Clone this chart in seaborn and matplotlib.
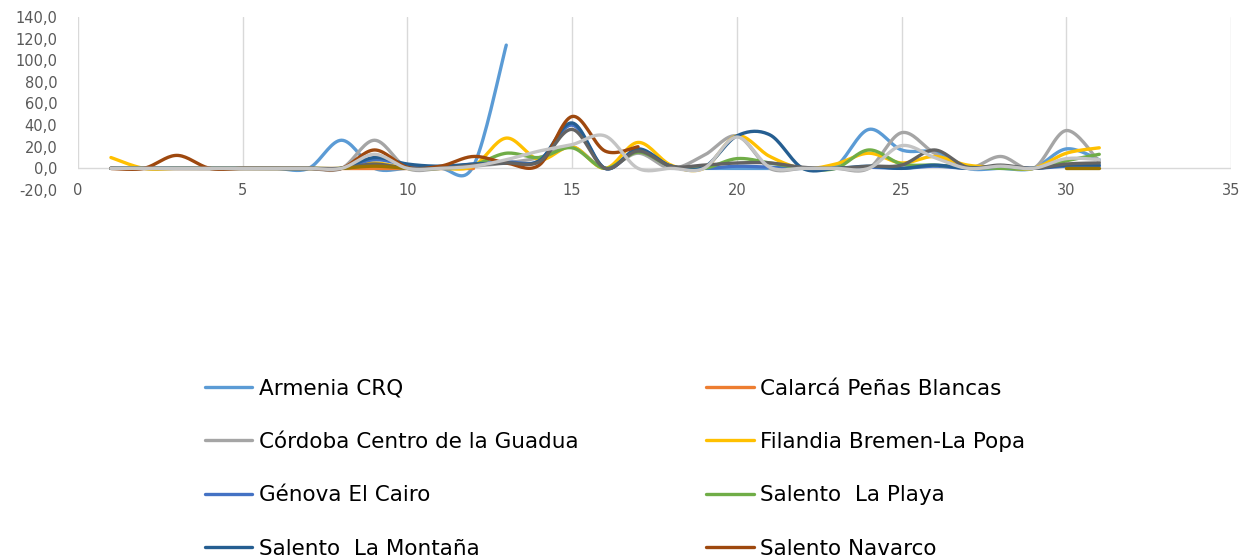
import numpy as np
import pandas as pd
import matplotlib
matplotlib.use("Agg")
import matplotlib.pyplot as plt
import seaborn as sns
from matplotlib.lines import Line2D

nan = np.nan

# dias 1..31
dias = list(range(1, 32))

armenia = [0, 0, 0, 0, 0, 0, 0, 26, 0, 0, 0, 2, 114, nan, nan, nan, nan,
           0, 0, 0, 0, 0, 2, 36, 17, 15, 0, 0, 0, 18, 8]
calarca = [0, 0, 0, 0, 0, 0, 0, 0, 0, 0, 0, 0, nan, nan, nan, nan, nan,
           nan, nan, nan, nan, nan, nan, nan, nan, nan, nan, nan, nan, nan, nan]
cordoba = [0, 0, 0, 0, 0, 0, 0, 0, 26, 0, 0, 2, 5, 10, 20, 0, 14,
           0, 12, 30, 0, 0, 0, 0, 33, 14, 0, 11, 0, 35, 6]
filandia = [10, 0, 0, 0, 0, 0, 0, 0, 5, 0, 0, 2, 28, 8, 20, 0, 24,
            3, 0, 30, 11, 0, 4, 14, 5, 11, 3, 1, 0, 14, 19]
genova = [0, 0, 0, 0, 0, 0, 0, 0, 8, 3, 1, 4, 6, 7, 40, 0, 17,
          2, 0, 2, 1, 0, 0, 1, 0, 2, 0, 1, 0, 2, 2]
playa = [0, 0, 0, 0, 0, 0, 0, 0, 3, 0, 0, 3, 14, 10, 19, 0, 15,
         2, 0, 9, 5, 0, 0, 17, 4, 3, 1, 0, 0, 7, 13]
montana = [0, 0, 0, 0, 0, 0, 0, 0, 10, 4, 2, 4, 5, 7, 42, 0, 18,
           2, 1, 30, 31, 0, 0, 2, 0, 3, 0, 2, 0, 3, 3]
navarco = [0, 0, 12, 0, 0, 0, 0, 0, 17, 1, 2, 11, 5, 3, 48, 16, 20,
           nan, nan, nan, nan, nan, nan, nan, nan, nan, nan, nan, nan, nan, nan]
serie9 = [0, 0, 0, 0, 0, 0, 0, 0, 4, 0, 0, 3, 5, 6, 36, 0, 16,
          2, 3, 5, 5, 1, 0, 2, 3, 17, 1, 3, 0, 4, 5]
serie10 = [nan, nan, nan, nan, nan, nan, nan, 0, 2, 0, nan, nan, nan, nan, nan, nan, nan,
           nan, nan, nan, nan, nan, nan, nan, nan, nan, nan, nan, nan, 0, 0]
serie11 = [0, 0, 0, 0, 0, 0, 0, 0, 13, 0, 0, 2, 8, 16, 22, 30, 0,
           0, 0, 29, 1, 0, 0, 0, 21, 10, 0, 2, 0, 9, 8]

nombres = ["Armenia CRQ", "Calarcá Peñas Blancas", "Córdoba Centro de la Guadua",
           "Filandia Bremen-La Popa", "Génova El Cairo", "Salento  La Playa",
           "Salento  La Montaña", "Salento Navarco", "Serie 9", "Serie 10", "Serie 11"]
series = [armenia, calarca, cordoba, filandia, genova, playa, montana, navarco,
          serie9, serie10, serie11]
colores = ["#5B9BD5", "#ED7D31", "#A5A5A5", "#FFC000", "#4472C4", "#70AD47",
           "#255E91", "#9E480E", "#636363", "#997300", "#C4C4C4"]


def suavizar(xs, ys, n=20):
    # curvas tipo Excel (Catmull-Rom / Bezier) por tramos sin huecos
    xs = np.asarray(xs, float)
    ys = np.asarray(ys, float)
    tramos, actual = [], []
    for x, y in zip(xs, ys):
        if np.isnan(y):
            if actual:
                tramos.append(actual)
            actual = []
        else:
            actual.append((x, y))
    if actual:
        tramos.append(actual)
    salida = []
    t = np.linspace(0, 1, n)[:, None]
    for tr in tramos:
        if len(tr) < 2:
            continue
        P = np.array(tr)
        pts = []
        for i in range(len(P) - 1):
            p0 = P[i - 1] if i > 0 else P[i]
            p1, p2 = P[i], P[i + 1]
            p3 = P[i + 2] if i + 2 < len(P) else P[i + 1]
            c1 = p1 + (p2 - p0) / 6
            c2 = p2 - (p3 - p1) / 6
            b = ((1 - t) ** 3) * p1 + 3 * ((1 - t) ** 2) * t * c1 + 3 * (1 - t) * t ** 2 * c2 + t ** 3 * p2
            pts.append(b if i == 0 else b[1:])
        salida.append(np.vstack(pts))
    return salida


sns.set_style("white")
plt.rcParams['font.family'] = ['DejaVu Sans']

fig = plt.figure(figsize=(12.46, 5.55), dpi=100)
ax = fig.add_axes([0.0626, 0.6577, 0.9254, 0.3117])

# rejilla vertical (solo de 0 a 140) y linea del eje en 0
for xv in range(0, 36, 5):
    ax.plot([xv, xv], [0, 140], color="#D9D9D9", lw=1, zorder=0)
ax.axhline(0, color="#D9D9D9", lw=1, zorder=0)

for nombre, vals, col in zip(nombres, series, colores):
    for k, tramo in enumerate(suavizar(dias, vals)):
        df = pd.DataFrame({"x": tramo[:, 0], "y": tramo[:, 1]})
        sns.lineplot(data=df, x="x", y="y", color=col, lw=2.4, sort=False,
                     estimator=None, ax=ax)

ax.set_xlim(0, 35)
ax.set_ylim(-20, 140)
ax.set_xticks(range(0, 36, 5))
ax.set_yticks(range(-20, 141, 20))
ax.set_yticklabels([f"{v:.1f}".replace(".", ",") for v in range(-20, 141, 20)])
ax.set_xlabel("")
ax.set_ylabel("")
for s in ax.spines.values():
    s.set_visible(False)
ax.tick_params(axis="both", length=0, labelsize=10.5, labelcolor="#595959")
ax.tick_params(axis="x", pad=-5)
ax.tick_params(axis="y", pad=15)

# leyenda en dos columnas (ordenada por filas)
handles = [Line2D([], [], color=c, lw=2.4) for c in colores]
izq = list(range(0, len(nombres), 2))
der = list(range(1, len(nombres), 2))
kw = dict(loc="upper left", frameon=False, fontsize=15.5, handlelength=2.2,
          handletextpad=0.3, labelspacing=1.55, borderpad=0, borderaxespad=0,
          labelcolor="#000000")
fig.legend([handles[i] for i in izq], [nombres[i] for i in izq],
           bbox_to_anchor=(0.1645, 0.318), **kw)
fig.legend([handles[i] for i in der], [nombres[i] for i in der],
           bbox_to_anchor=(0.567, 0.318), **kw)

fig.savefig("out.png", dpi=100)
